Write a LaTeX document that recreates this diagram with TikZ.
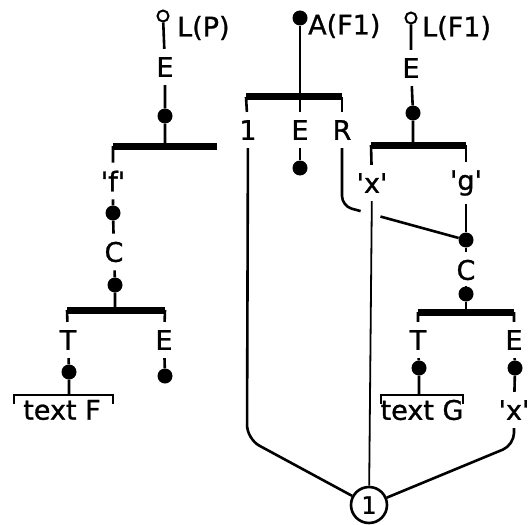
\documentclass[tikz,border=0pt]{standalone}
\usepackage{fontspec}
\newfontfamily\plotfont{DejaVu Sans}[FakeBold=1]
\usetikzlibrary{calc}
\newcommand\qu[1]{\textquotesingle#1\textquotesingle}

\begin{document}
\begin{tikzpicture}[x=1pt, y=-1pt,
    tie/.style={line width=2.6pt},
    bar/.style={line width=7pt},
    lbl/.style={font=\plotfont\fontsize{27}{32}\selectfont, inner xsep=1pt, inner ysep=8pt},
    dot/.style={circle, fill, inner sep=0pt, minimum size=15pt},
    pin/.style={circle, draw, line width=2pt, inner sep=0pt, minimum size=11pt},
    ring/.style={circle, draw, line width=2.6pt, inner sep=0pt, minimum size=36pt,
      font=\plotfont\fontsize{24}{28}\selectfont}]
  \useasboundingbox (0,0) rectangle (532,524);

  % left tree
  \node[pin] (lp) at (163,16) {};
  \node[lbl, anchor=west] (lpname) at (176,28) {L(P)};
  \node[lbl] (e1) at (165,67) {E};
  \node[dot] (d1) at (165,116) {};
  \coordinate (b1) at (165,146);
  \coordinate (b1l) at (113,146);
  \coordinate (b1r) at (217,146);
  \node[lbl] (fq) at (113,181) {\qu{f}};
  \node[dot] (d2) at (113,213) {};
  \node[lbl] (c1) at (114,252) {C};
  \node[dot] (d3) at (115,285) {};
  \coordinate (b2) at (115,310);
  \coordinate (b2l) at (67,310);
  \coordinate (b2r) at (165,310);
  \node[lbl] (t1) at (68,340) {T};
  \node[lbl] (e2) at (164,340) {E};
  \node[dot] (d4) at (69,372) {};
  \node[dot] (d5) at (165,376) {};
  \coordinate (brF) at (69,395);
  \coordinate (brFl) at (14,395);
  \coordinate (brFr) at (113,395);
  \node[lbl] (textF) at (62,410) {text F};

  \draw[tie] (lp) -- (e1) -- (d1) -- (b1);
  \draw[bar] (b1l) -- (b1r);
  \draw[tie] (b1l) -- (fq) -- (d2) -- (c1) -- (d3) -- (b2);
  \draw[bar] (b2l) -- (b2r);
  \draw[tie] (b2l) -- (t1) -- (d4) -- (brF);
  \draw[tie] (b2r) -- (e2) -- (d5);
  \draw[tie] (brFl) ++(0,9) -- (brFl) -- (brFr) -- ++(0,9);

  % middle
  \node[dot] (af) at (300,18) {};
  \node[lbl, anchor=west] (afname) at (307,26) {A(F1)};
  \coordinate (b3) at (300,97);
  \coordinate (b3l) at (246,97);
  \coordinate (b3r) at (342,97);
  \node[lbl] (one) at (248,130) {1};
  \node[lbl] (e3) at (300,130) {E};
  \node[lbl] (r) at (342,130) {R};
  \node[dot] (d6) at (300,168) {};
  \node[ring] (ring) at (369,505) {1};
  \coordinate (k1) at (247,439);
  \coordinate (k2) at (342,206);

  \draw[tie] (af) -- (b3) -- (e3) -- (d6);
  \draw[bar] (b3l) -- (b3r);
  \draw[tie] (b3l) -- (one);
  \draw[tie] (b3r) -- (r);
  \draw[tie, rounded corners=14pt] (one) -- (k1) -- (ring);

  % right tree
  \node[pin] (lf) at (411,18) {};
  \node[lbl, anchor=west] (lfname) at (421,28) {L(F1)};
  \node[lbl] (e4) at (411,68) {E};
  \node[dot] (d7) at (413,113) {};
  \coordinate (b4) at (413,145);
  \coordinate (b4l) at (371,145);
  \coordinate (b4r) at (466,145);
  \node[lbl] (xq) at (372,183) {\qu{x}};
  \node[lbl] (gq) at (466,183) {\qu{g}};
  \node[dot] (gd) at (466,240) {};
  \node[lbl] (c2) at (466,270) {C};
  \node[dot] (d8) at (466,294) {};
  \coordinate (b5) at (466,312);
  \coordinate (b5l) at (418,312);
  \coordinate (b5r) at (514,312);
  \node[lbl] (t2) at (418,340) {T};
  \node[lbl] (e5) at (514,340) {E};
  \node[dot] (d9) at (419,368) {};
  \node[dot] (d10) at (515,368) {};
  \coordinate (brG) at (419,395);
  \coordinate (brGl) at (381,395);
  \coordinate (brGr) at (463,395);
  \node[lbl] (textG) at (422,410) {text G};
  \node[lbl] (xq2) at (514,410) {\qu{x}};
  \coordinate (k3) at (514,445);

  \draw[tie] (lf) -- (e4) -- (d7) -- (b4);
  \draw[bar] (b4l) -- (b4r);
  \draw[tie] (b4l) -- (xq);
  \draw[tie] (b4r) -- (gq) -- (gd) -- (c2) -- (d8) -- (b5);
  \draw[bar] (b5l) -- (b5r);
  \draw[tie] (b5l) -- (t2) -- (d9) -- (brG);
  \draw[tie] (b5r) -- (e5) -- (d10) -- (xq2);
  \draw[tie] (brGl) ++(0,9) -- (brGl) -- (brGr) -- ++(0,9);
  \draw[tie, rounded corners=12pt] (xq2) -- (k3) -- (ring);
  \draw[line width=1.8pt] (xq) -- (ring);

  % R crosses over the x line
  \draw[tie, rounded corners=10pt] (r) -- (k2) -- ($(k2)!0.15!(gd)$);
  \draw[tie] ($(k2)!0.31!(gd)$) -- (gd);
\end{tikzpicture}
\end{document}
